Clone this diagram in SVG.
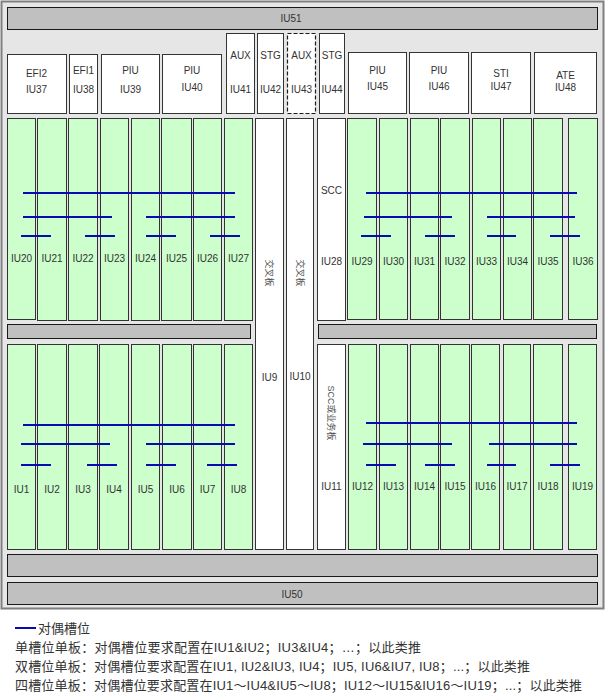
<svg xmlns="http://www.w3.org/2000/svg" width="606" height="694" viewBox="0 0 606 694">
<style>
.bg{fill:#ffffff}
.frame{fill:#e6e6e6;stroke:#7f7f7f;stroke-width:2}
.bar{fill:#c0c0c0;stroke:#1a1a1a;stroke-width:1}
.card{fill:#ffffff;stroke:#333333;stroke-width:1}
.dash{fill:#ffffff;stroke:#1a1a1a;stroke-width:1.2;stroke-dasharray:4 2}
.slot{fill:#ccffcc;stroke:#333333;stroke-width:1}
.t{font-family:"Liberation Sans","Noto Sans CJK SC",sans-serif;font-size:10px;fill:#333333;text-anchor:middle}
.v{font-family:"Liberation Sans","Noto Sans CJK SC",sans-serif;font-size:9px;fill:#555555;text-anchor:middle}
.pair{stroke:#0a0ab4;stroke-width:2;fill:none}
.lg{font-family:"Liberation Sans","Noto Sans CJK SC",sans-serif;font-size:13px;fill:#333333}
</style>
<rect class="bg" x="0" y="0" width="606" height="694"/>
<rect class="frame" x="1.5" y="1.5" width="602" height="607"/>

<g id="IU51"><rect class="bar" x="7.5" y="7.5" width="590" height="22"/><text class="t" x="291" y="22">IU51</text></g>

<g id="IU37"><rect class="card" x="7.5" y="54.5" width="59" height="59"/><text class="t" x="36.5" y="77">EFI2</text><text class="t" x="36.5" y="93">IU37</text></g>
<g id="IU38"><rect class="card" x="69.5" y="54.5" width="28" height="59"/><text class="t" x="83.5" y="74">EFI1</text><text class="t" x="83.5" y="93">IU38</text></g>
<g id="IU39"><rect class="card" x="101.5" y="54.5" width="58" height="59"/><text class="t" x="130.5" y="74">PIU</text><text class="t" x="130.5" y="93">IU39</text></g>
<g id="IU40"><rect class="card" x="162.5" y="54.5" width="59" height="59"/><text class="t" x="192" y="74">PIU</text><text class="t" x="192" y="91">IU40</text></g>
<g id="IU41"><rect class="card" x="226.5" y="33.5" width="28" height="80"/><text class="t" x="240.5" y="59">AUX</text><text class="t" x="240.5" y="93">IU41</text></g>
<g id="IU42"><rect class="card" x="257.5" y="33.5" width="26" height="80"/><text class="t" x="270.5" y="59">STG</text><text class="t" x="270.5" y="93">IU42</text></g>
<g id="IU43"><rect class="dash" x="287.5" y="33.5" width="28" height="80"/><text class="t" x="301.5" y="59">AUX</text><text class="t" x="301.5" y="93">IU43</text></g>
<g id="IU44"><rect class="card" x="319.5" y="33.5" width="25" height="80"/><text class="t" x="332" y="59">STG</text><text class="t" x="332" y="93">IU44</text></g>
<g id="IU45"><rect class="card" x="348.5" y="52.5" width="58" height="61"/><text class="t" x="377.5" y="74">PIU</text><text class="t" x="377.5" y="90">IU45</text></g>
<g id="IU46"><rect class="card" x="409.5" y="52.5" width="59" height="61"/><text class="t" x="439" y="74">PIU</text><text class="t" x="439" y="90">IU46</text></g>
<g id="IU47"><rect class="card" x="471.5" y="52.5" width="59" height="61"/><text class="t" x="501" y="77">STI</text><text class="t" x="501" y="90">IU47</text></g>
<g id="IU48"><rect class="card" x="534.5" y="52.5" width="62" height="61"/><text class="t" x="565.5" y="79">ATE</text><text class="t" x="565.5" y="91">IU48</text></g>

<g id="IU20"><rect class="slot" x="7.5" y="118.5" width="28" height="201"/><text class="t" x="21.5" y="262">IU20</text></g>
<g id="IU21"><rect class="slot" x="37.5" y="118.5" width="29" height="202"/><text class="t" x="52" y="262">IU21</text></g>
<g id="IU22"><rect class="slot" x="68.5" y="118.5" width="29" height="202"/><text class="t" x="83" y="262">IU22</text></g>
<g id="IU23"><rect class="slot" x="100.5" y="118.5" width="28" height="202"/><text class="t" x="114.5" y="262">IU23</text></g>
<g id="IU24"><rect class="slot" x="131.5" y="118.5" width="28" height="202"/><text class="t" x="145.5" y="262">IU24</text></g>
<g id="IU25"><rect class="slot" x="161.5" y="118.5" width="30" height="202"/><text class="t" x="176.5" y="262">IU25</text></g>
<g id="IU26"><rect class="slot" x="193.5" y="118.5" width="28" height="202"/><text class="t" x="207.5" y="262">IU26</text></g>
<g id="IU27"><rect class="slot" x="224.5" y="118.5" width="28" height="202"/><text class="t" x="238.5" y="262">IU27</text></g>

<g id="IU9"><rect class="card" x="255.5" y="118.5" width="28" height="431"/><text class="v" transform="translate(266 273) rotate(90)">交叉板</text><text class="t" x="269.5" y="381">IU9</text></g>
<g id="IU10"><rect class="card" x="286.5" y="118.5" width="27" height="431"/><text class="v" transform="translate(297 273) rotate(90)">交叉板</text><text class="t" x="300" y="380">IU10</text></g>
<g id="IU28"><rect class="card" x="317.5" y="118.5" width="28" height="202"/><text class="t" x="331.5" y="194">SCC</text><text class="t" x="331.5" y="265">IU28</text></g>

<g id="IU29"><rect class="slot" x="347.5" y="118.5" width="29" height="201"/><text class="t" x="362" y="265">IU29</text></g>
<g id="IU30"><rect class="slot" x="379.5" y="118.5" width="28" height="201"/><text class="t" x="393.5" y="265">IU30</text></g>
<g id="IU31"><rect class="slot" x="410.5" y="118.5" width="28" height="201"/><text class="t" x="424.5" y="265">IU31</text></g>
<g id="IU32"><rect class="slot" x="440.5" y="118.5" width="29" height="201"/><text class="t" x="455" y="265">IU32</text></g>
<g id="IU33"><rect class="slot" x="472.5" y="118.5" width="28" height="201"/><text class="t" x="486.5" y="265">IU33</text></g>
<g id="IU34"><rect class="slot" x="503.5" y="118.5" width="28" height="201"/><text class="t" x="517.5" y="265">IU34</text></g>
<g id="IU35"><rect class="slot" x="533.5" y="118.5" width="29" height="201"/><text class="t" x="548" y="265">IU35</text></g>
<g id="IU36"><rect class="card" x="568.5" y="118.5" width="29" height="201" style="fill:#ccffcc"/><text class="t" x="583" y="265">IU36</text></g>

<g id="divider-left"><rect class="bar" x="7.5" y="324.5" width="243" height="14"/></g>
<g id="divider-right"><rect class="bar" x="318.5" y="324.5" width="278" height="14"/></g>

<g id="IU1"><rect class="slot" x="7.5" y="344.5" width="28" height="205"/><text class="t" x="21.5" y="493">IU1</text></g>
<g id="IU2"><rect class="slot" x="37.5" y="344.5" width="29" height="205"/><text class="t" x="52" y="493">IU2</text></g>
<g id="IU3"><rect class="slot" x="68.5" y="344.5" width="29" height="205"/><text class="t" x="83" y="493">IU3</text></g>
<g id="IU4"><rect class="slot" x="99.5" y="344.5" width="29" height="205"/><text class="t" x="114" y="493">IU4</text></g>
<g id="IU5"><rect class="slot" x="131.5" y="344.5" width="28" height="205"/><text class="t" x="145.5" y="493">IU5</text></g>
<g id="IU6"><rect class="slot" x="162.5" y="344.5" width="29" height="205"/><text class="t" x="177" y="493">IU6</text></g>
<g id="IU7"><rect class="slot" x="193.5" y="344.5" width="28" height="205"/><text class="t" x="207.5" y="493">IU7</text></g>
<g id="IU8"><rect class="slot" x="224.5" y="344.5" width="28" height="205"/><text class="t" x="238.5" y="493">IU8</text></g>

<g id="IU11"><rect class="card" x="317.5" y="344.5" width="28" height="205"/><text class="v" transform="translate(328 413) rotate(90)">SCC或业务板</text><text class="t" x="331.5" y="490">IU11</text></g>

<g id="IU12"><rect class="slot" x="348.5" y="344.5" width="28" height="205"/><text class="t" x="362.5" y="490">IU12</text></g>
<g id="IU13"><rect class="slot" x="379.5" y="344.5" width="28" height="205"/><text class="t" x="393.5" y="490">IU13</text></g>
<g id="IU14"><rect class="slot" x="410.5" y="344.5" width="28" height="205"/><text class="t" x="424.5" y="490">IU14</text></g>
<g id="IU15"><rect class="slot" x="440.5" y="344.5" width="29" height="205"/><text class="t" x="455" y="490">IU15</text></g>
<g id="IU16"><rect class="slot" x="471.5" y="344.5" width="28" height="205"/><text class="t" x="485.5" y="490">IU16</text></g>
<g id="IU17"><rect class="slot" x="503.5" y="344.5" width="27" height="205"/><text class="t" x="517" y="490">IU17</text></g>
<g id="IU18"><rect class="slot" x="533.5" y="344.5" width="29" height="205"/><text class="t" x="548" y="490">IU18</text></g>
<g id="IU19"><rect class="slot" x="568.5" y="344.5" width="28" height="205"/><text class="t" x="582.5" y="490">IU19</text></g>

<g id="bottom-bar"><rect class="bar" x="7.5" y="554.5" width="590" height="22"/></g>
<g id="IU50"><rect class="bar" x="7.5" y="582.5" width="590" height="22"/><text class="t" x="292" y="598">IU50</text></g>

<g id="connectors">
<line class="pair" x1="23" y1="193" x2="235" y2="193"/>
<line class="pair" x1="23" y1="217" x2="112" y2="217"/>
<line class="pair" x1="146" y1="217" x2="235" y2="217"/>
<line class="pair" x1="21" y1="236" x2="51" y2="236"/>
<line class="pair" x1="85" y1="236" x2="115" y2="236"/>
<line class="pair" x1="146" y1="236" x2="176" y2="236"/>
<line class="pair" x1="210" y1="236" x2="240" y2="236"/>

<line class="pair" x1="366" y1="193" x2="577" y2="193"/>
<line class="pair" x1="364" y1="217" x2="452" y2="217"/>
<line class="pair" x1="487" y1="217" x2="575" y2="217"/>
<line class="pair" x1="361" y1="236" x2="391" y2="236"/>
<line class="pair" x1="425" y1="236" x2="455" y2="236"/>
<line class="pair" x1="487" y1="236" x2="516" y2="236"/>
<line class="pair" x1="550" y1="236" x2="580" y2="236"/>

<line class="pair" x1="23" y1="425" x2="235" y2="425"/>
<line class="pair" x1="21" y1="444" x2="110" y2="444"/>
<line class="pair" x1="146" y1="444" x2="235" y2="444"/>
<line class="pair" x1="21" y1="465" x2="51" y2="465"/>
<line class="pair" x1="87" y1="465" x2="117" y2="465"/>
<line class="pair" x1="146" y1="465" x2="176" y2="465"/>
<line class="pair" x1="207" y1="465" x2="237" y2="465"/>

<line class="pair" x1="366" y1="423" x2="577" y2="423"/>
<line class="pair" x1="363" y1="444" x2="452" y2="444"/>
<line class="pair" x1="489" y1="444" x2="577" y2="444"/>
<line class="pair" x1="366" y1="465" x2="396" y2="465"/>
<line class="pair" x1="425" y1="465" x2="455" y2="465"/>
<line class="pair" x1="487" y1="465" x2="516" y2="465"/>
<line class="pair" x1="550" y1="465" x2="580" y2="465"/>
</g>

<g id="legend">
<line class="pair" x1="15" y1="628" x2="36" y2="628"/>
<text class="lg" x="38" y="633">对偶槽位</text>
<text class="lg" x="15" y="652" textLength="406" lengthAdjust="spacing">单槽位单板：对偶槽位要求配置在IU1&amp;IU2；IU3&amp;IU4；…；以此类推</text>
<text class="lg" x="15" y="671" textLength="515" lengthAdjust="spacing">双槽位单板：对偶槽位要求配置在IU1, IU2&amp;IU3, IU4；IU5, IU6&amp;IU7, IU8；...；以此类推</text>
<text class="lg" x="15" y="690" textLength="567" lengthAdjust="spacing">四槽位单板：对偶槽位要求配置在IU1～IU4&amp;IU5～IU8；IU12～IU15&amp;IU16～IU19；...；以此类推</text>
</g>
</svg>
